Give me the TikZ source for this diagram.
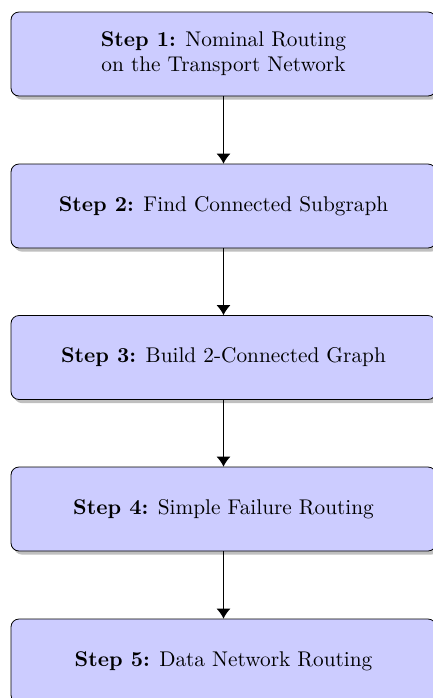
\documentclass[tikz,border=0pt]{standalone}
\usetikzlibrary{shadows,arrows.meta}
\tikzset{
  stepbox/.style={draw=black, fill=blue!20, rounded corners=4pt, line width=0.4pt,
    minimum width=212.5pt, minimum height=42pt, align=center,
    font=\fontsize{10.65}{12.6}\selectfont,
    drop shadow={shadow xshift=1.5pt, shadow yshift=-1.8pt, fill=black!25, opacity=1}},
  flow/.style={-{Latex[length=5pt,width=7pt]}, line width=0.5pt}
}
\begin{document}
\begin{tikzpicture}[x=0.5pt,y=-0.5pt]
  \useasboundingbox (0,0) rectangle (433,698);
  \node[stepbox] (s1) at (223.5,54) {\textbf{Step 1:} Nominal Routing\\on the Transport Network};
  \node[stepbox] (s2) at (223.5,206) {\textbf{Step 2:} Find Connected Subgraph};
  \node[stepbox] (s3) at (223.5,357.5) {\textbf{Step 3:} Build 2-Connected Graph};
  \node[stepbox] (s4) at (223.5,509) {\textbf{Step 4:} Simple Failure Routing};
  \node[stepbox] (s5) at (223.5,661) {\textbf{Step 5:} Data Network Routing};
  \draw[flow] (s1) -- (s2);
  \draw[flow] (s2) -- (s3);
  \draw[flow] (s3) -- (s4);
  \draw[flow] (s4) -- (s5);
\end{tikzpicture}
\end{document}
